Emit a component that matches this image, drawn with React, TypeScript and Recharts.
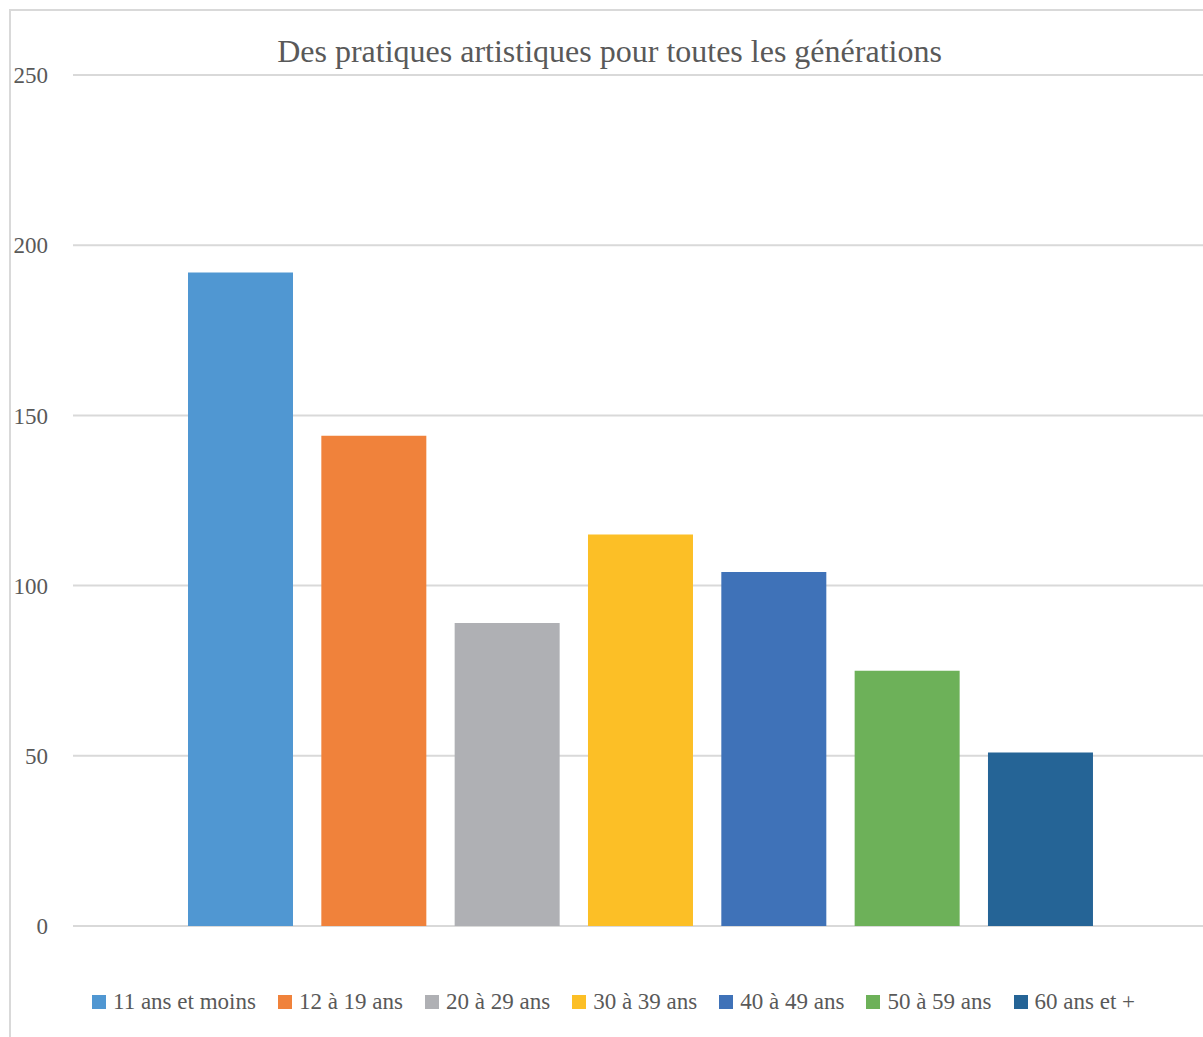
import React from "react";
import { BarChart, Bar, XAxis, YAxis, CartesianGrid, Legend } from "recharts";

const seriesNames = [
  "11 ans et moins",
  "12 à 19 ans",
  "20 à 29 ans",
  "30 à 39 ans",
  "40 à 49 ans",
  "50 à 59 ans",
  "60 ans et +",
];
const seriesValues = [192, 144, 89, 115, 104, 75, 51];
const seriesColors = ["#5097D2", "#F0823B", "#AFB0B4", "#FCBF26", "#3F72B8", "#6DB159", "#256496"];
const yTicks = [0, 50, 100, 150, 200, 250];
const title = "Des pratiques artistiques pour toutes les générations";

const row: Record<string, number | string> = { name: "" };
seriesNames.forEach((n, i) => {
  row["s" + i] = seriesValues[i];
});
const data = [row];

const FONT = "'Liberation Serif', 'DejaVu Serif', serif";

const LegendContent = () => (
  <div
    style={{
      display: "flex",
      justifyContent: "center",
      alignItems: "center",
      fontFamily: FONT,
      fontSize: 23,
      color: "#595959",
    }}
  >
    {seriesNames.map((n, i) => (
      <div key={n} style={{ display: "flex", alignItems: "center", marginRight: i < seriesNames.length - 1 ? 22 : 0 }}>
        <div style={{ width: 14, height: 14, background: seriesColors[i], marginRight: 7 }} />
        <span>{n}</span>
      </div>
    ))}
  </div>
);

export default function App() {
  return (
    <div style={{ position: "absolute", left: 0, top: 0, width: 1203, height: 1037, overflow: "hidden", background: "#fff" }}>
      <div
        style={{
          position: "absolute",
          left: 9,
          top: 9,
          width: 1300,
          height: 1100,
          border: "2px solid #d9d9d9",
          boxSizing: "border-box",
        }}
      />
      <div
        style={{
          position: "absolute",
          left: 0,
          top: 32,
          width: 1219,
          textAlign: "center",
          fontFamily: FONT,
          fontSize: 32,
          color: "#595959",
          lineHeight: "38px",
        }}
      >
        {title}
      </div>
      <div style={{ position: "absolute", left: 0, top: 0 }}>
        <BarChart
          width={1208}
          height={1037}
          data={data}
          margin={{ top: 75, right: 0, bottom: 111, left: 0 }}
          barSize={105}
          barGap={28.33}
        >
          <CartesianGrid horizontal vertical={false} stroke="#d9d9d9" strokeWidth={2} />
          <XAxis dataKey="name" tick={false} height={0} axisLine={{ stroke: "#d9d9d9", strokeWidth: 2 }} tickLine={false} />
          <YAxis
            width={73}
            domain={[0, 250]}
            ticks={yTicks}
            axisLine={false}
            tickLine={false}
            tickMargin={19}
            tick={{ fontFamily: FONT, fontSize: 23, fill: "#595959" }}
          />
          <Legend
            layout="horizontal"
            verticalAlign="middle"
            align="center"
            wrapperStyle={{ top: 989, left: 12, width: 1203 }}
            content={() => <LegendContent />}
          />
          {seriesNames.map((n, i) => (
            <Bar key={n} dataKey={"s" + i} name={n} fill={seriesColors[i]} isAnimationActive={false} />
          ))}
        </BarChart>
      </div>
    </div>
  );
}
